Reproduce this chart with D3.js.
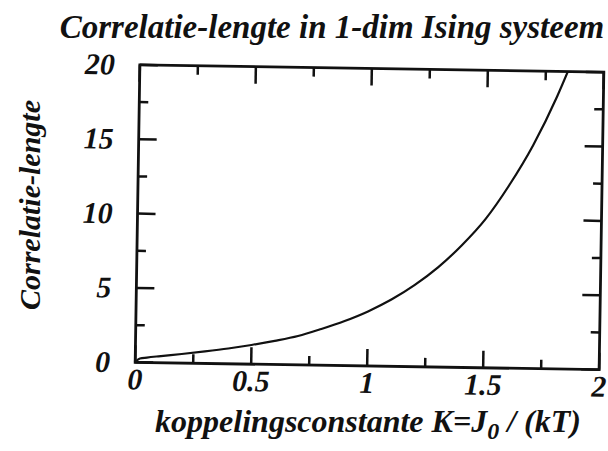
<!DOCTYPE html>
<html>
<head>
<meta charset="utf-8">
<script src="https://cdn.jsdelivr.net/npm/d3@7"></script>
<style>
  body { margin: 0; background: #fff; }
  text { font-family: "Liberation Serif", "Times New Roman", serif; font-weight: bold; font-style: italic; fill: #111; }
</style>
</head>
<body>
<div id="chart"></div>
<script>
// values
var koppeling = [0, 0.02, 0.05, 0.1, 0.2, 0.3, 0.4, 0.5, 0.6, 0.7, 0.8, 0.9, 1.0, 1.1, 1.2, 1.3, 1.4, 1.5, 1.6, 1.7, 1.8, 1.85];
var lengte    = [0, 0.26, 0.33, 0.43, 0.61, 0.81, 1.03, 1.29, 1.59, 1.94, 2.44, 3.0, 3.67, 4.49, 5.5, 6.72, 8.22, 10.0, 12.3, 15.0, 18.3, 20.2];
var xTicks = [0, 0.5, 1, 1.5, 2];
var xMinor = [0.25, 0.75, 1.25, 1.75];
var yTicks = [0, 5, 10, 15, 20];
var yMinor = [2.5, 7.5, 12.5, 17.5];

var W = 608, H = 451;
var pLeft = 137.5, pRight = 601.5, pTop = 68.5, pBottom = 366;
var tilt = 0.9; // scan is a bit crooked

var svg = d3.select("#chart").append("svg")
            .attr("width", W)
            .attr("height", H);

var x = d3.scaleLinear().domain([0, 2]).range([pLeft, pRight]);
var y = d3.scaleLinear().domain([0, 20]).range([pBottom, pTop]);

var plot = svg.append("g")
              .attr("transform", "rotate(" + tilt + "," + (pLeft + pRight) / 2 + "," + (pTop + pBottom) / 2 + ")");

plot.append("clipPath").attr("id", "clip")
    .append("rect")
    .attr("x", pLeft).attr("y", pTop)
    .attr("width", pRight - pLeft).attr("height", pBottom - pTop);

// ticks on all four sides, pointing inwards
function tickLines(vals, len, horiz){
	vals.forEach(function(v){
		if(horiz){
			plot.append("line").attr("x1", x(v)).attr("x2", x(v)).attr("y1", pBottom).attr("y2", pBottom - len);
			plot.append("line").attr("x1", x(v)).attr("x2", x(v)).attr("y1", pTop).attr("y2", pTop + len);
		}
		else{
			plot.append("line").attr("y1", y(v)).attr("y2", y(v)).attr("x1", pLeft).attr("x2", pLeft + len);
			plot.append("line").attr("y1", y(v)).attr("y2", y(v)).attr("x1", pRight).attr("x2", pRight - len);
		}
	});
}
tickLines(xTicks, 17, true);
tickLines(xMinor, 9, true);
tickLines(yTicks, 18, false);
tickLines(yMinor, 9, false);
plot.selectAll("line").attr("stroke", "#111").attr("stroke-width", 2.5);

plot.append("rect")
    .attr("x", pLeft).attr("y", pTop)
    .attr("width", pRight - pLeft).attr("height", pBottom - pTop)
    .attr("fill", "none")
    .attr("stroke", "#111")
    .attr("stroke-width", 2.8);

var pts = koppeling.map(function(k, i){ return [k, lengte[i]]; });
var line = d3.line()
             .x(function(d){ return x(d[0]); })
             .y(function(d){ return y(d[1]); })
             .curve(d3.curveMonotoneX);

plot.append("path")
    .datum(pts)
    .attr("clip-path", "url(#clip)")
    .attr("d", line)
    .attr("fill", "none")
    .attr("stroke", "#111")
    .attr("stroke-width", 2.2);

plot.selectAll(".xl").data(xTicks).enter().append("text")
    .attr("x", function(d){ return x(d); })
    .attr("y", pBottom + 27)
    .attr("text-anchor", "middle")
    .style("font-size", "30px")
    .text(function(d){ return d; });

plot.selectAll(".yl").data(yTicks).enter().append("text")
    .attr("x", pLeft - 25)
    .attr("y", function(d){ return y(d) + 10; })
    .attr("text-anchor", "end")
    .style("font-size", "30px")
    .text(function(d){ return d; });

svg.append("text")
   .attr("x", 332).attr("y", 38)
   .attr("text-anchor", "middle")
   .style("font-size", "33px")
   .text("Correlatie-lengte in 1-dim Ising systeem");

var xt = svg.append("text")
   .attr("x", 368).attr("y", 432)
   .attr("text-anchor", "middle")
   .style("font-size", "32px");
xt.append("tspan").text("koppelingsconstante K=J");
xt.append("tspan").attr("dy", 7).style("font-size", "24px").text("0");
xt.append("tspan").attr("dy", -7).text(" / (kT)");

svg.append("text")
   .attr("transform", "translate(40,205) rotate(-90)")
   .attr("text-anchor", "middle")
   .style("font-size", "30px")
   .text("Correlatie-lengte");
</script>
</body>
</html>
